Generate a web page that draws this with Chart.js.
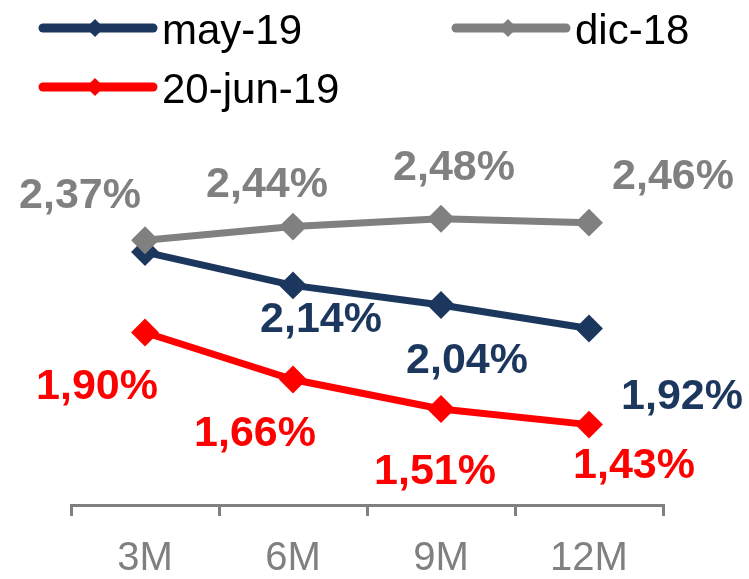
<!DOCTYPE html>
<html>
<head>
<meta charset="utf-8">
<title>Curva de tipos</title>
<script src="https://cdn.jsdelivr.net/npm/chart.js@4/dist/chart.umd.min.js"></script>
<style>
    body { margin: 0; background: #ffffff; }
    #wrap { width: 749px; height: 579px; position: relative; }
</style>
</head>
<body>
<div id="wrap"><canvas id="curva"></canvas></div>
<script>
// plazos
var plazos = ['3M', '6M', '9M', '12M'];

// tipos en %
var may19 = [2.31, 2.14, 2.04, 1.92];
var dic18 = [2.37, 2.44, 2.48, 2.46];
var jun19 = [1.90, 1.66, 1.51, 1.43];

// which points carry a value label (the 3M point of may-19 has none)
var conEtiqueta = [
    [false, true, true, true],
    [true, true, true, true],
    [true, true, true, true]
];

// label offsets from each point, px
var desplaz = [
    [[0, 0], [28, 35], [26, 56], [93, 69]],
    [[-65, -44], [-26, -41], [13, -51], [84, -46]],
    [[-48, 55], [-38, 55], [-6, 63], [45, 42]]
];

var AZUL = '#1c375e';
var GRIS = '#808080';
var ROJO = '#ff0000';
var FUENTE = 'Arial, "Liberation Sans", sans-serif';

function formato(v) {
    return v.toFixed(2).replace('.', ',') + '%';
}

// value labels next to the points
var etiquetas = {
    id: 'etiquetas',
    afterDatasetsDraw: function (chart) {
        var ctx = chart.ctx;
        ctx.save();
        ctx.font = 'bold 43px ' + FUENTE;
        ctx.textAlign = 'center';
        ctx.textBaseline = 'middle';
        chart.data.datasets.forEach(function (ds, i) {
            var meta = chart.getDatasetMeta(i);
            ctx.fillStyle = ds.borderColor;
            meta.data.forEach(function (pt, j) {
                if (!conEtiqueta[i][j]) return;
                ctx.fillText(formato(ds.data[j]), pt.x + desplaz[i][j][0], pt.y + desplaz[i][j][1]);
            });
        });
        ctx.restore();
    }
};

// legend: two columns, line with a diamond in the middle
var leyenda = {
    id: 'leyenda',
    afterDraw: function (chart) {
        var ctx = chart.ctx;
        var sitios = [[43, 28], [456, 28], [43, 87]];
        ctx.save();
        chart.data.datasets.forEach(function (ds, i) {
            var x = sitios[i][0], y = sitios[i][1];
            ctx.strokeStyle = ds.borderColor;
            ctx.fillStyle = ds.borderColor;
            ctx.lineWidth = 9;
            ctx.lineCap = 'round';
            ctx.beginPath();
            ctx.moveTo(x, y);
            ctx.lineTo(x + 110, y);
            ctx.stroke();
            var cx = x + 52, r = 9;
            ctx.beginPath();
            ctx.moveTo(cx - r, y);
            ctx.lineTo(cx, y - r);
            ctx.lineTo(cx + r, y);
            ctx.lineTo(cx, y + r);
            ctx.closePath();
            ctx.fill();
            ctx.fillStyle = '#000000';
            ctx.font = '42px ' + FUENTE;
            ctx.textAlign = 'left';
            ctx.textBaseline = 'alphabetic';
            ctx.fillText(ds.label, x + 119, y + 16);
        });
        ctx.restore();
    }
};

function serie(nombre, datos, color, orden) {
    return {
        label: nombre,
        data: datos,
        borderColor: color,
        backgroundColor: color,
        borderWidth: 7,
        pointStyle: 'rectRot',
        pointRadius: 9,
        pointHoverRadius: 9,
        tension: 0,
        order: orden
    };
}

var ctx = document.getElementById('curva').getContext('2d');
new Chart(ctx, {
    type: 'line',
    data: {
        labels: plazos,
        datasets: [
            serie('may-19', may19, AZUL, 1),
            serie('dic-18', dic18, GRIS, 0),
            serie('20-jun-19', jun19, ROJO, 2)
        ]
    },
    options: {
        responsive: true,
        maintainAspectRatio: false,
        animation: false,
        events: [],
        layout: { padding: { left: 71, right: 86, top: 156, bottom: 0 } },
        plugins: {
            legend: { display: false },
            tooltip: { enabled: false }
        },
        scales: {
            x: {
                offset: true,
                grid: {
                    offset: true,
                    drawOnChartArea: false,
                    drawTicks: true,
                    tickLength: 11,
                    color: GRIS,
                    lineWidth: 3
                },
                border: { display: true, color: GRIS, width: 3 },
                ticks: {
                    color: GRIS,
                    padding: 19,
                    font: { family: FUENTE, size: 40, lineHeight: 1.2 }
                },
                afterFit: function (scale) { scale.height = 74; }
            },
            y: {
                display: false,
                min: 1.02,
                max: 2.8
            }
        }
    },
    plugins: [etiquetas, leyenda]
});
</script>
</body>
</html>
